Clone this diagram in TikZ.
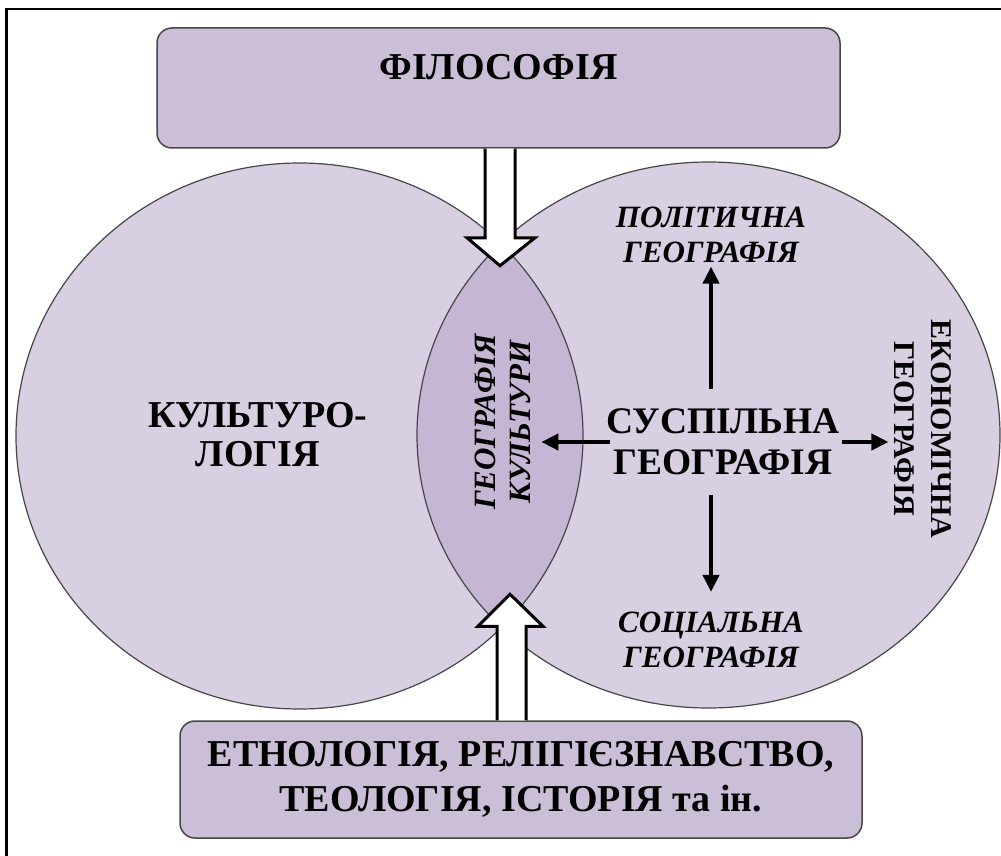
\documentclass[tikz,border=0pt]{standalone}
\usepackage{fontspec}
\setmainfont{Liberation Serif}
\usetikzlibrary{arrows.meta}
\definecolor{boxfill}{RGB}{203,191,215}
\definecolor{circfill}{RGB}{216,207,227}
\definecolor{lensfill}{RGB}{197,183,212}
\definecolor{edgegray}{RGB}{70,70,70}
\tikzset{
  box/.style={draw=edgegray, line width=1.5pt, fill=boxfill, rounded corners=15pt},
  circle outline/.style={draw=edgegray, line width=1.2pt},
  blockarr/.style={draw=black, line width=3pt, fill=white, line join=miter},
  thinarr/.style={line width=4pt, -{Triangle[length=17pt,width=16pt]}},
  bigtext/.style={font=\fontsize{36}{40}\selectfont\bfseries, align=center, inner sep=0pt},
  italtext/.style={font=\fontsize{31}{35}\selectfont\bfseries\itshape, align=center, inner sep=0pt},
}
\begin{document}
\begin{tikzpicture}[x=1pt,y=-1pt]
\useasboundingbox (0,0) rectangle (1001,856);
\clip (0,0) rectangle (1001,856);
% outer frame
\draw[line width=2.6pt] (6.5,9) rectangle (1020,880);
% circles
\fill[circfill] (299.5,436) ellipse [x radius=283.5pt, y radius=273pt];
\fill[circfill] (708.5,435) ellipse [x radius=291.5pt, y radius=273pt];
\begin{scope}
  \clip (299.5,436) ellipse [x radius=283.5pt, y radius=273pt];
  \fill[lensfill] (708.5,435) ellipse [x radius=291.5pt, y radius=273pt];
\end{scope}
\draw[circle outline] (299.5,436) ellipse [x radius=283.5pt, y radius=273pt];
\draw[circle outline] (708.5,435) ellipse [x radius=291.5pt, y radius=273pt];
% top box
\node[box, anchor=base, minimum width=683pt, inner ysep=0pt, text height=52pt, text depth=68pt,
      font=\fontsize{38}{40}\selectfont\bfseries] (phil) at (498.5,80) {ФІЛОСОФІЯ};
% bottom box
\node[box, minimum width=682pt, minimum height=117pt, align=center,
      font=\fontsize{38}{45}\selectfont\bfseries] (others) at (521,779.5)
      {ЕТНОЛОГІЯ, РЕЛІГІЄЗНАВСТВО,\\ТЕОЛОГІЯ, ІСТОРІЯ та ін.};
% block arrows
\draw[blockarr] ([xshift=-13.5pt]phil.south) -- ++(0,89) -- ++(-18,0) -- ++(33,28)
      -- ++(35,-28) -- ++(-20,0) -- ++(0,-89);
\draw[blockarr] ([xshift=-24pt]others.north) -- ++(0,-94) -- ++(-19,0) -- ++(32,-32)
      -- ++(33,32) -- ++(-17,0) -- ++(0,94);
% texts
\node[bigtext, font=\fontsize{38}{39}\selectfont\bfseries] (kult) at (258,435) {КУЛЬТУРО-\\ЛОГІЯ};
\node[bigtext, font=\fontsize{37.5}{41}\selectfont\bfseries] (suspil) at (723,442) {СУСПІЛЬНА\\ГЕОГРАФІЯ};
\node[italtext] (polit) at (711,234.5) {ПОЛІТИЧНА\\ГЕОГРАФІЯ};
\node[italtext] (social) at (711,640) {СОЦІАЛЬНА\\ГЕОГРАФІЯ};
\node[italtext, rotate=90, font=\fontsize{31}{35.5}\selectfont\bfseries\itshape] (geokult) at (503,422) {ГЕОГРАФІЯ\\КУЛЬТУРИ};
\node[bigtext, rotate=-90, font=\fontsize{30}{36.5}\selectfont\bfseries] (econ) at (923,429) {ЕКОНОМІЧНА\\ГЕОГРАФІЯ};
% thin arrows
\draw[thinarr, shorten <=20pt, shorten >=4pt] (suspil.north -| polit.south) -- (polit.south);
\draw[thinarr, shorten <=20pt, shorten >=20pt] (suspil.south -| social.north) -- (social.north);
\draw[thinarr, shorten <=-4pt, shorten >=10pt] (suspil.west) -- (suspil.west -| geokult.south);
\draw[thinarr, shorten <=2pt, shorten >=6pt] (suspil.east) -- (suspil.east -| econ.south);
\end{tikzpicture}
\end{document}
